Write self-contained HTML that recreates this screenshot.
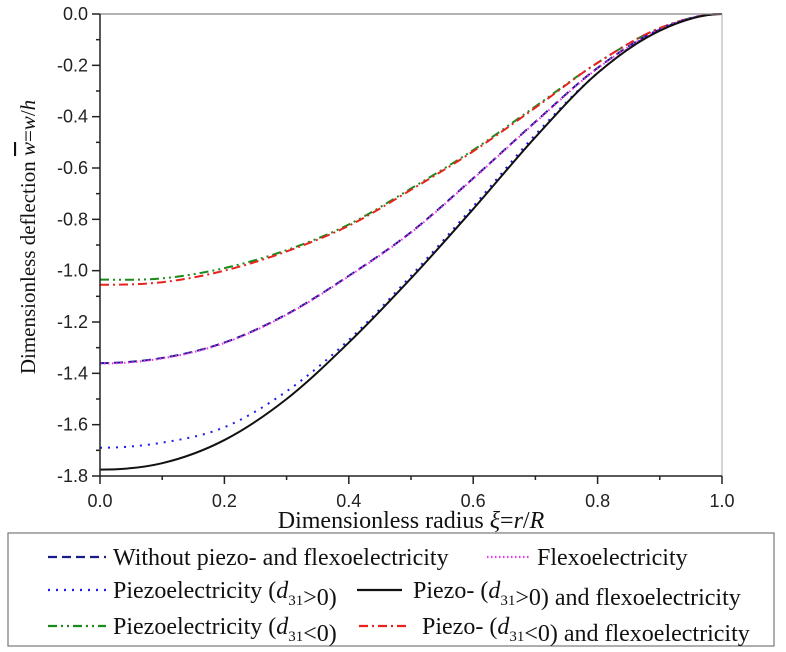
<!DOCTYPE html>
<html><head><meta charset="utf-8"><style>
body{margin:0;background:#fff;}
svg{display:block;}
.tk{font-family:"Liberation Sans",sans-serif;font-size:18px;fill:#222;}
.sr{font-family:"Liberation Serif",serif;font-size:24px;fill:#111;}
</style></head><body>
<svg id="chart" width="786" height="652" viewBox="0 0 786 652">
<g id="plot"></g>
<g id="axes"></g>
<text class="sr" x="411" y="528" text-anchor="middle">Dimensionless radius <tspan font-style="italic">ξ</tspan>=<tspan font-style="italic">r</tspan>/<tspan font-style="italic">R</tspan></text>
<text class="sr" style="font-size:21px" transform="translate(35,237) rotate(-90)" text-anchor="middle">Dimensionless deflection <tspan font-style="italic" text-decoration="overline">w</tspan>=<tspan font-style="italic">w</tspan>/<tspan font-style="italic">h</tspan></text>
<g id="legend">
<rect x="8" y="533" width="766" height="113" fill="none" stroke="#777" stroke-width="1.2"/>
</g>
</svg>
<script>
const xs = [0,0.1,0.2,0.3,0.4,0.5,0.6,0.7,0.8,0.9,1.0];
const wNone = [-1.36,-1.34,-1.28,-1.17,-1.02,-0.85,-0.64,-0.42,-0.21,-0.06,0];
const wFlexo = [-1.362,-1.342,-1.282,-1.172,-1.022,-0.852,-0.642,-0.422,-0.212,-0.061,0];
const wPiezoPos = [-1.69,-1.67,-1.61,-1.47,-1.27,-1.02,-0.75,-0.47,-0.23,-0.06,0];
const wBothPos = [-1.775,-1.75,-1.66,-1.5,-1.28,-1.03,-0.76,-0.48,-0.23,-0.065,0];
const wPiezoNeg = [-1.035,-1.03,-0.99,-0.92,-0.82,-0.68,-0.53,-0.36,-0.19,-0.055,0];
const wBothNeg = [-1.055,-1.045,-1.0,-0.925,-0.825,-0.685,-0.535,-0.365,-0.19,-0.055,0];
const xTicks = [0,0.2,0.4,0.6,0.8,1.0];
const yTicks = [0,-0.2,-0.4,-0.6,-0.8,-1.0,-1.2,-1.4,-1.6,-1.8];

const L=100,R=722,T=14,B=476;
const sx=v=>L+(v-0)/(1-0)*(R-L);
const sy=v=>T+(0-v)/1.8*(B-T);
const NS='http://www.w3.org/2000/svg';
function mk(tag,attrs,parent){const e=document.createElementNS(NS,tag);for(const k in attrs)e.setAttribute(k,attrs[k]);parent.appendChild(e);return e;}
const plot=document.getElementById('plot'),axes=document.getElementById('axes'),legend=document.getElementById('legend');

function pathFor(ys){
  const p=xs.map((x,i)=>[sx(x),sy(ys[i])]);
  let d='M'+p[0][0]+','+p[0][1];
  for(let i=0;i<p.length-1;i++){
    const p0=p[i-1]||[2*p[0][0]-p[1][0],p[1][1]],p1=p[i],p2=p[i+1],p3=p[i+2]||[2*p[i+1][0]-p[i][0],p[i][1]];
    const c1=[p1[0]+(p2[0]-p0[0])/6,p1[1]+(p2[1]-p0[1])/6];
    const c2=[p2[0]-(p3[0]-p1[0])/6,p2[1]-(p3[1]-p1[1])/6];
    d+=' C'+c1[0]+','+c1[1]+' '+c2[0]+','+c2[1]+' '+p2[0]+','+p2[1];
  }
  return d;
}
const series=[
 {ys:wPiezoNeg,c:'#1a8a1a',da:'9,4,2,4,2,4',n:'series-piezo-negative'},
 {ys:wBothNeg,c:'#e8231e',da:'9,4,2,4',n:'series-piezo-negative-flexo'},
 {ys:wNone,c:'#1a1a8c',da:'9,5',n:'series-without-piezo-flexo'},
 {ys:wFlexo,c:'#ee33ee',da:'1.5,2.5',n:'series-flexo'},
 {ys:wPiezoPos,c:'#1a1aee',da:'2,6',n:'series-piezo-positive'},
 {ys:wBothPos,c:'#111',da:'none',n:'series-piezo-positive-flexo'}
];
series.forEach(s=>{
  const e=mk('path',{d:pathFor(s.ys),fill:'none',stroke:s.c,'stroke-width':2,'stroke-dasharray':s.da},plot);
  
  
});
let e=mk('line',{x1:L,y1:T,x2:R,y2:T,stroke:'#888','stroke-width':1.2},axes);


e=mk('line',{x1:R,y1:T,x2:R,y2:B,stroke:'#aaa','stroke-width':1},axes);


e=mk('line',{x1:L,y1:T,x2:L,y2:B,stroke:'#222','stroke-width':1.5},axes);


e=mk('line',{x1:L,y1:B,x2:R,y2:B,stroke:'#222','stroke-width':1.5},axes);


yTicks.forEach((v,i)=>{
  const y=sy(v);
  mk('line',{x1:L-8,y1:y,x2:L,y2:y,stroke:'#222','stroke-width':1.5},axes);
  if(i<yTicks.length-1){const ym=sy(v-0.1);mk('line',{x1:L-4,y1:ym,x2:L,y2:ym,stroke:'#222','stroke-width':1.5},axes);}
  const t=mk('text',{x:L-12,y:y+6,'text-anchor':'end',class:'tk'},axes);
  t.textContent=v===0?'0.0':v.toFixed(1);
  
  
});
xTicks.forEach((v,i)=>{
  const x=sx(v);
  mk('line',{x1:x,y1:B,x2:x,y2:B+8,stroke:'#222','stroke-width':1.5},axes);
  if(i<xTicks.length-1){const xm=sx(v+0.1);mk('line',{x1:xm,y1:B,x2:xm,y2:B+4,stroke:'#222','stroke-width':1.5},axes);}
  const t=mk('text',{x:x,y:507,'text-anchor':'middle',class:'tk'},axes);
  t.textContent=v.toFixed(1);
  
  
});
const leg=[
 {x1:48,x2:106,tx:113,y:557,c:'#1a1a8c',da:'9,5',txt:'Without piezo- and flexoelectricity',n:'legend-entry-without'},
 {x1:487,x2:530,tx:537,y:557,c:'#ee33ee',da:'1.5,2.5',txt:'Flexoelectricity',n:'legend-entry-flexo'},
 {x1:48,x2:106,tx:113,y:590,c:'#1a1aee',da:'2,6',txt:'Piezoelectricity (<i>d</i><sub>31</sub>&gt;0)',n:'legend-entry-piezo-positive'},
 {x1:357,x2:402,tx:413,y:590,c:'#111',da:'none',txt:'Piezo- (<i>d</i><sub>31</sub>&gt;0) and flexoelectricity',n:'legend-entry-both-positive'},
 {x1:48,x2:106,tx:113,y:626,c:'#1a8a1a',da:'9,4,2,4,2,4',txt:'Piezoelectricity (<i>d</i><sub>31</sub>&lt;0)',n:'legend-entry-piezo-negative'},
 {x1:359,x2:410,tx:422,y:626,c:'#e8231e',da:'9,4,2,4',txt:'Piezo- (<i>d</i><sub>31</sub>&lt;0) and flexoelectricity',n:'legend-entry-both-negative'}
];
leg.forEach(l=>{
  const g=mk('g',{},legend);
  
  
  mk('line',{x1:l.x1,y1:l.y,x2:l.x2,y2:l.y,stroke:l.c,'stroke-width':2.2,'stroke-dasharray':l.da},g);
  const t=mk('text',{x:l.tx,y:l.y+8,class:'sr'},g);
  t.innerHTML=l.txt.replace(/<i>(.*?)<\/i>/g,'<tspan font-style="italic">$1</tspan>').replace(/<sub>(.*?)<\/sub>/g,'<tspan dy="7" font-size="15">$1</tspan><tspan dy="-7"></tspan>');
});
</script>
</body></html>
